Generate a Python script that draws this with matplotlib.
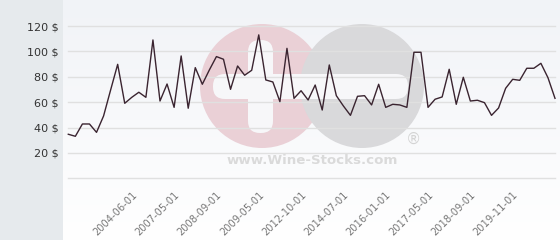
import numpy as np
import matplotlib
matplotlib.use("Agg")
import matplotlib.pyplot as plt
import matplotlib.transforms as mtransforms
from matplotlib.patches import Circle, FancyBboxPatch

# prices in $, one per category (dates on the axis are only shown every 6th point)
prices = [34.7, 33.1, 42.8, 42.8, 36.2, 49.1, 69.6, 89.8, 59.1, 63.8,
          67.8, 63.8, 109.0, 60.9, 74.3, 55.9, 96.4, 55.2, 87.2, 74.1,
          85.4, 95.9, 93.8, 70.1, 88.5, 81.2, 85.1, 113.0, 77.5, 75.9,
          60.4, 102.4, 63.0, 69.0, 61.7, 73.5, 53.8, 89.3, 65.1, 57.0,
          49.6, 64.6, 65.1, 57.8, 74.1, 55.9, 58.3, 57.8, 55.9, 99.3,
          99.3, 55.9, 62.3, 64.1, 85.9, 58.3, 79.6, 60.9, 61.5, 59.6,
          49.6, 55.4, 70.9, 78.0, 77.2, 86.7, 86.7, 90.6, 79.3, 63.0]
tick_pos = [9, 15, 21, 27, 33, 39, 45, 51, 57, 63]
tick_labels = ["2004-06-01", "2007-05-01", "2008-09-01", "2009-05-01", "2012-10-01",
               "2014-07-01", "2016-01-01", "2017-05-01", "2018-09-01", "2019-11-01"]
y_ticks = [0, 20, 40, 60, 80, 100, 120]

W, H = 560, 240
fig = plt.figure(figsize=(W / 100, H / 100), dpi=100)
fig.patch.set_facecolor("#e6eaed")

# fond clair en dégradé + filigrane
bg = fig.add_axes([63 / W, 0, 1 - 63 / W, 1])
grad = np.linspace(0, 1, 256).reshape(-1, 1)
bg.imshow(grad, aspect="auto", extent=[63, W, H, 0],
          cmap=matplotlib.colors.LinearSegmentedColormap.from_list("g", ["#f1f3f7", "#ffffff"]))
bg.set_xlim(63, W)
bg.set_ylim(H, 0)
bg.axis("off")
bg.add_patch(Circle((262, 86), 62, color="#ead0d6", lw=0))
bg.add_patch(Circle((362, 86), 62, color="#d9d9db", lw=0))
bg.add_patch(FancyBboxPatch((213, 74), 195, 25, boxstyle="round,pad=0,rounding_size=12",
                            color="#f7f7f9", lw=0))
bg.add_patch(FancyBboxPatch((248, 40), 25, 93, boxstyle="round,pad=0,rounding_size=12",
                            color="#f7f7f9", lw=0))
bg.text(312, 160, "www.Wine-Stocks.com", ha="center", va="center", fontsize=9.6,
        fontweight="bold", color="#dadada")
bg.text(413, 139, "®", ha="center", va="center", fontsize=11, color="#d4d4d4")

ax = fig.add_axes([68.3 / W, (H - 178.3) / H, (555 - 68.3) / W, (178.3 - 26) / H])
ax.patch.set_alpha(0)
x = np.arange(len(prices))
ax.plot(x, prices, color="#3a2430", lw=1.0, clip_on=False, zorder=3)
ax.set_xlim(0, 69)
ax.set_ylim(0, 120)
ax.set_yticks(y_ticks)
ax.set_yticklabels([f"{v} $" if v else "" for v in y_ticks], fontsize=8, color="#333333")
ax.set_xticks(tick_pos)
ax.set_xticklabels(tick_labels, rotation=45, ha="right", va="top", rotation_mode="anchor",
                   fontsize=7.1, color="#777777")
shift = mtransforms.ScaledTranslation(-4 / 100, 0, fig.dpi_scale_trans)
for lab in ax.get_xticklabels():
    lab.set_transform(lab.get_transform() + shift)
ax.tick_params(axis="y", length=0, pad=7)
ax.tick_params(axis="x", length=0, pad=8)
ax.grid(axis="y", color="#e0e0e0", lw=1)
for gl in ax.get_ygridlines():
    gl.set_clip_on(False)
for s in ax.spines.values():
    s.set_visible(False)

fig.savefig("out.png", dpi=100)
